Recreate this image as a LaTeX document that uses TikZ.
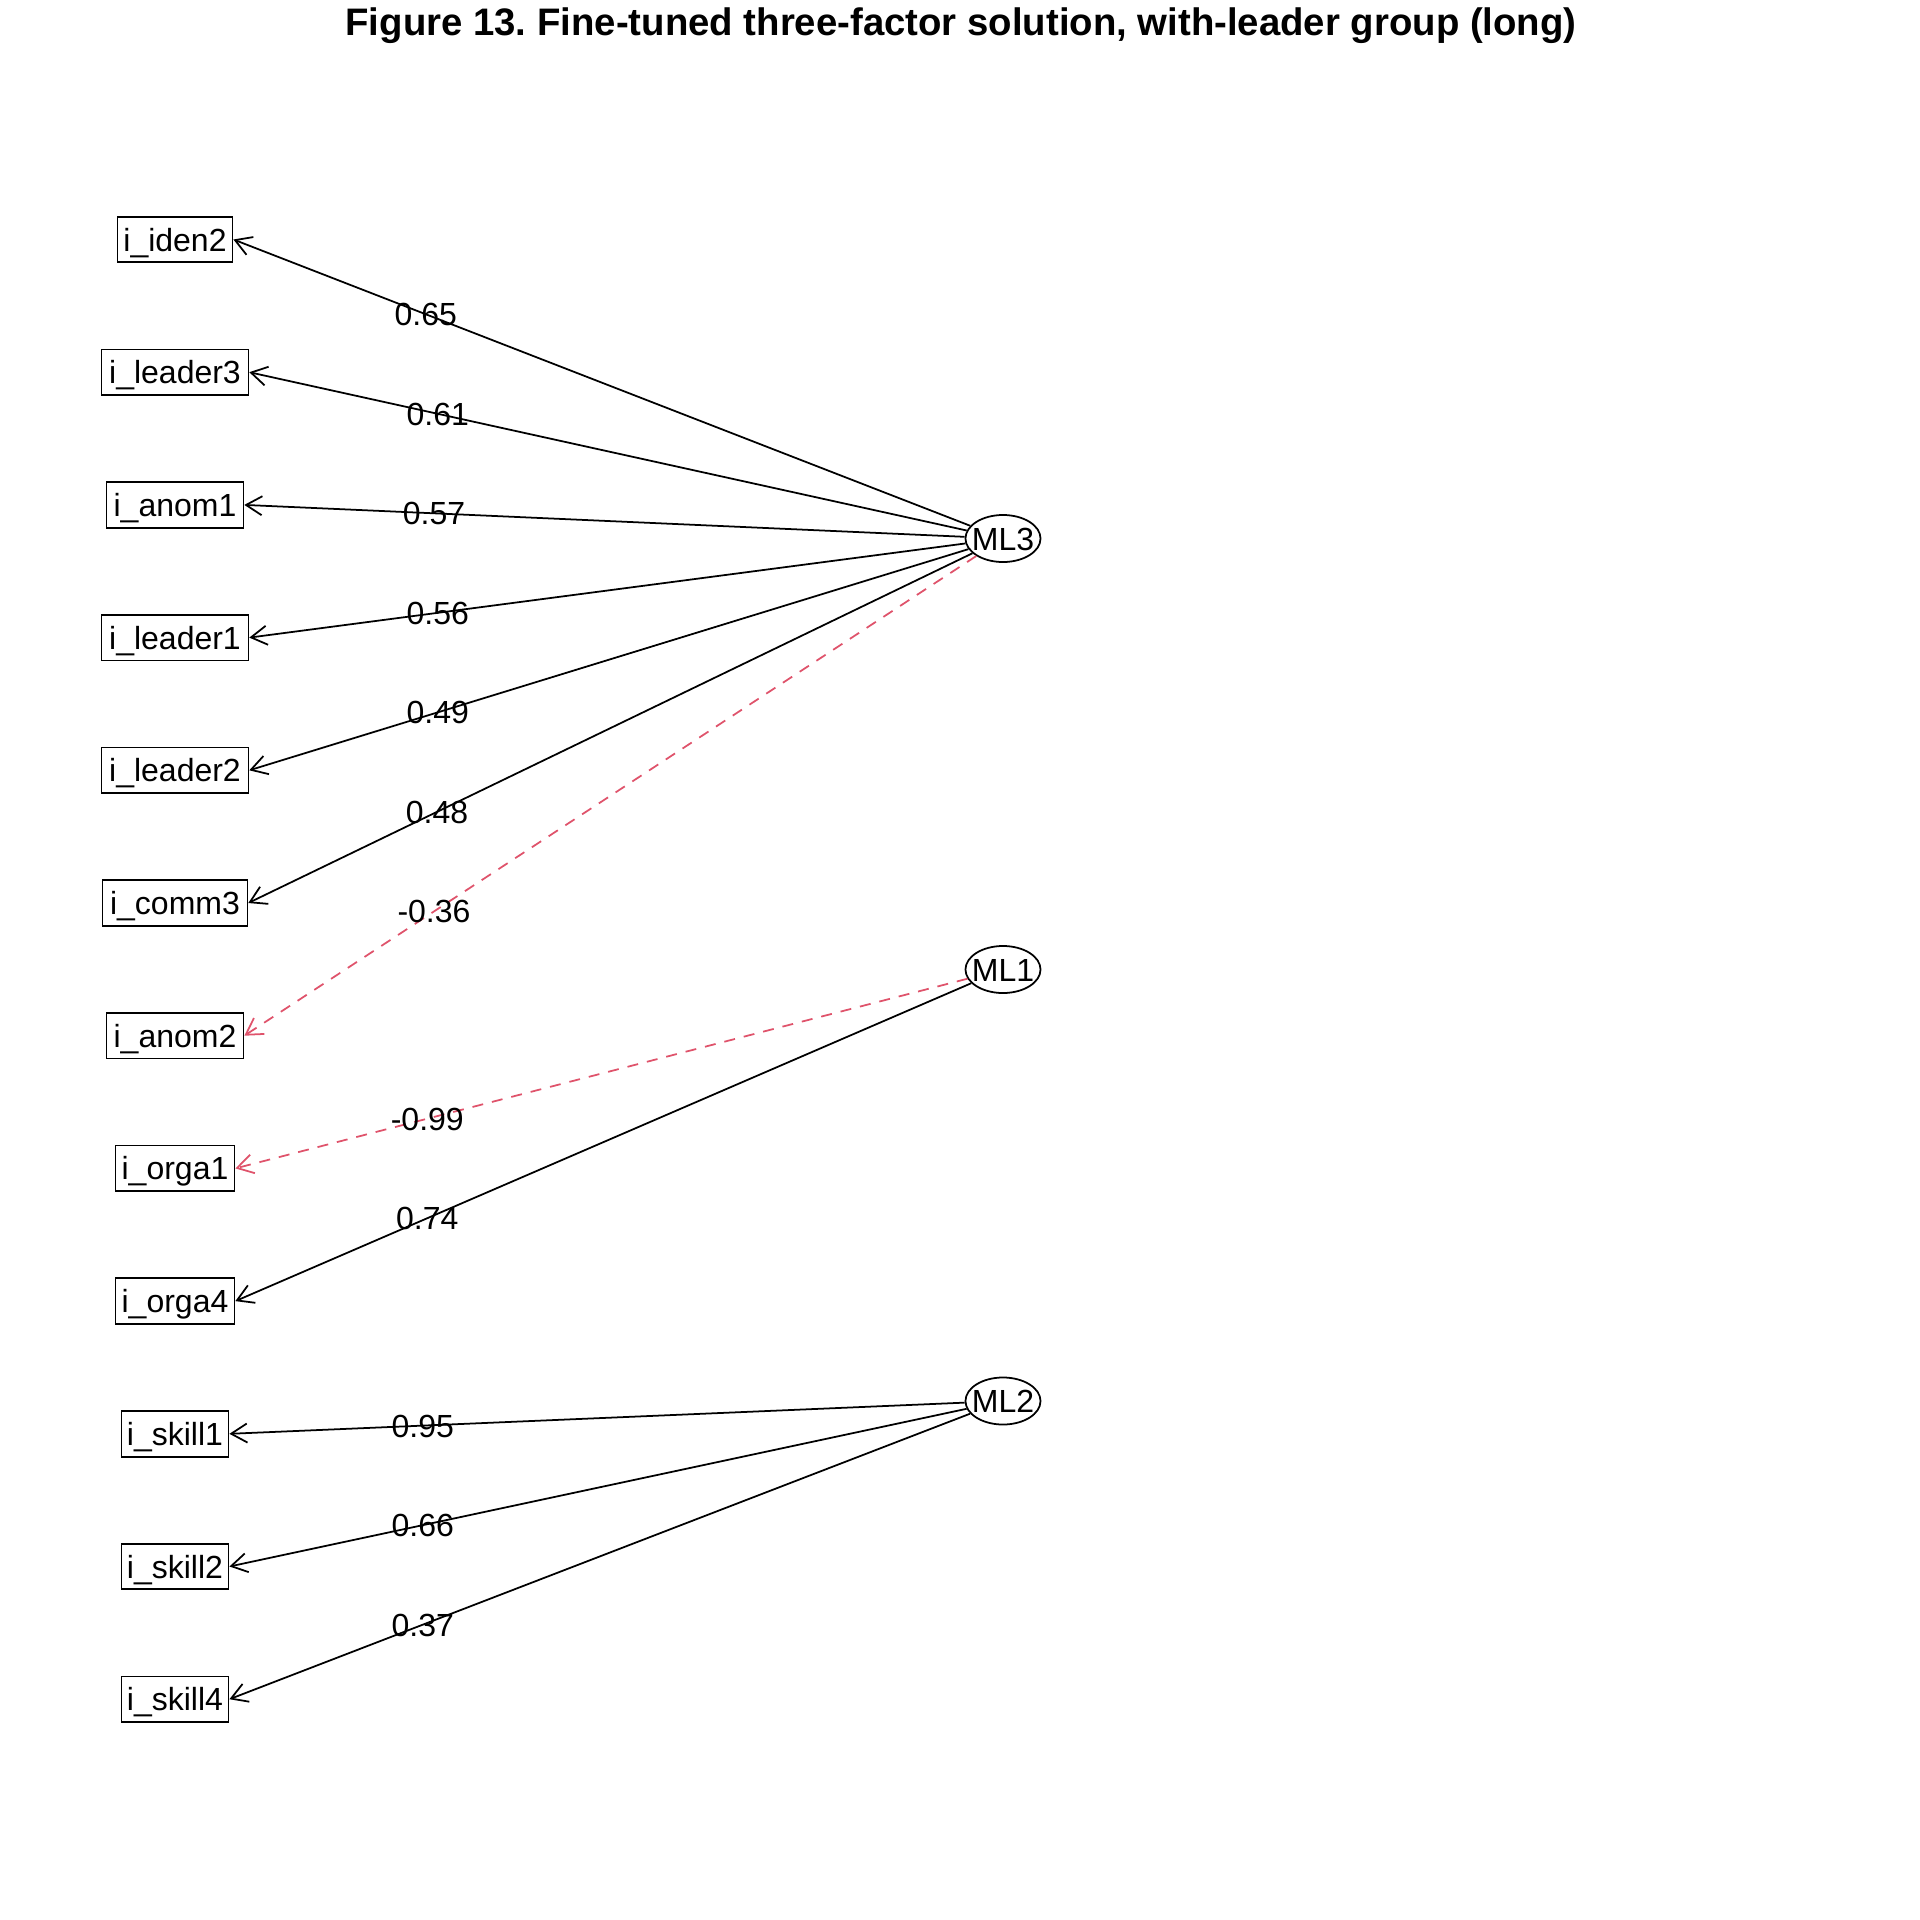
\documentclass[tikz,border=0pt]{standalone}
\usepackage{fontspec}
\setmainfont{Liberation Sans}
\usetikzlibrary{arrows.meta,shapes.geometric,calc}
\definecolor{rred}{HTML}{DF536B}
\newcommand{\lblfont}{\fontsize{9.1pt}{10.5pt}\selectfont}
\newcommand{\ttlfont}{\fontsize{10.9pt}{12pt}\selectfont\bfseries}
\frenchspacing
\begin{document}
\begin{tikzpicture}[x=0.01cm,y=-0.01cm,
  var/.style={draw, line width=0.5pt, rectangle, inner sep=0pt,
    minimum height=0.456cm, minimum width=#1, font=\lblfont,
    text height=0.23cm, text depth=0pt},
  fac/.style={draw, ellipse, line width=0.5pt, inner sep=0pt,
    minimum width=0.75cm, minimum height=0.47cm, font=\lblfont,
    text height=0.23cm, text depth=0pt},
  ld/.style={line width=0.5pt, -{Straight Barb[length=1.6mm,width=1.9mm]}},
  neg/.style={ld, rred, dash pattern=on 1.1mm off 0.9mm},
  lab/.style={font=\lblfont, inner sep=0pt, text height=0.23cm, text depth=0pt}]
\useasboundingbox (0,0) rectangle (1920,1920);
\node[font=\ttlfont, anchor=base] (title) at (961,35) {Figure 13. Fine-tuned three-factor solution, with-leader group (long)};

\node[var=1.15cm]   (iden2)   at (175,239.5)  {i\_iden2};
\node[var=1.467cm]  (leader3) at (175,372.2)  {i\_leader3};
\node[var=1.368cm]  (anom1)   at (175,504.9)  {i\_anom1};
\node[var=1.467cm]  (leader1) at (175,637.6)  {i\_leader1};
\node[var=1.467cm]  (leader2) at (175,770.3)  {i\_leader2};
\node[var=1.447cm]  (comm3)   at (175,903.0)  {i\_comm3};
\node[var=1.368cm]  (anom2)   at (175,1035.7) {i\_anom2};
\node[var=1.189cm]  (orga1)   at (175,1168.4) {i\_orga1};
\node[var=1.189cm]  (orga4)   at (175,1301.1) {i\_orga4};
\node[var=1.07cm]   (skill1)  at (175,1433.8) {i\_skill1};
\node[var=1.07cm]   (skill2)  at (175,1566.5) {i\_skill2};
\node[var=1.07cm]   (skill4)  at (175,1699.2) {i\_skill4};

\node[fac] (ML3) at (1003,538.5) {\makebox[0pt]{ML3}};
\node[fac] (ML1) at (1003,969.5) {\makebox[0pt]{ML1}};
\node[fac] (ML2) at (1003,1401)  {\makebox[0pt]{ML2}};

\draw[ld]  (ML3) -- (iden2.east);
\draw[ld]  (ML3) -- (leader3.east);
\draw[ld]  (ML3) -- (anom1.east);
\draw[ld]  (ML3) -- (leader1.east);
\draw[ld]  (ML3) -- (leader2.east);
\draw[ld]  (ML3) -- (comm3.east);
\draw[neg] (ML3) -- (anom2.east);
\draw[neg] (ML1) -- (orga1.east);
\draw[ld]  (ML1) -- (orga4.east);
\draw[ld]  (ML2) -- (skill1.east);
\draw[ld]  (ML2) -- (skill2.east);
\draw[ld]  (ML2) -- (skill4.east);

\node[lab] (l1)  at ($(ML3.center)!0.75!(iden2.east)$)   {0.65};
\node[lab] (l2)  at ($(ML3.center)!0.75!(leader3.east)$) {0.61};
\node[lab] (l3)  at ($(ML3.center)!0.75!(anom1.east)$)   {0.57};
\node[lab] (l4)  at ($(ML3.center)!0.75!(leader1.east)$) {0.56};
\node[lab] (l5)  at ($(ML3.center)!0.75!(leader2.east)$) {0.49};
\node[lab] (l6)  at ($(ML3.center)!0.75!(comm3.east)$)   {0.48};
\node[lab] (l7)  at ($(ML3.center)!0.75!(anom2.east)$)   {-0.36};
\node[lab] (l8)  at ($(ML1.center)!0.75!(orga1.east)$)   {-0.99};
\node[lab] (l9)  at ($(ML1.center)!0.75!(orga4.east)$)   {0.74};
\node[lab] (l10) at ($(ML2.center)!0.75!(skill1.east)$)  {0.95};
\node[lab] (l11) at ($(ML2.center)!0.75!(skill2.east)$)  {0.66};
\node[lab] (l12) at ($(ML2.center)!0.75!(skill4.east)$)  {0.37};
\end{tikzpicture}
\end{document}
